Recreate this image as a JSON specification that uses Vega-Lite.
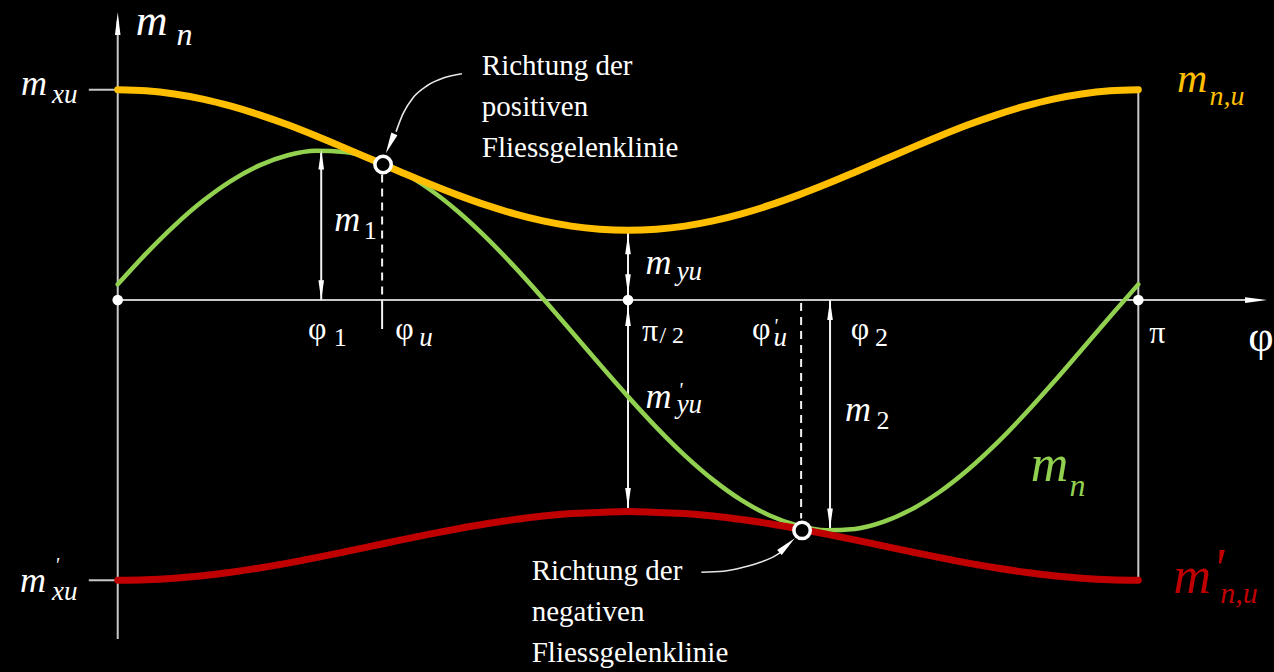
{
  "$schema": "https://vega.github.io/schema/vega-lite/v6.json",
  "width": 1274,
  "height": 672,
  "autosize": {"type": "fit", "contains": "padding"},
  "padding": 0,
  "background": "#000000",
  "config": {"view": {"stroke": null}, "text": {"font": "'Liberation Serif', 'Times New Roman', serif"}},
  "datasets": {
    "yellow": [
      {"phi": 0, "v": 211.0}, {"phi": 5, "v": 209.9}, {"phi": 10, "v": 206.7}, {"phi": 15, "v": 201.6},
      {"phi": 20, "v": 194.5}, {"phi": 25, "v": 185.8}, {"phi": 30, "v": 175.8}, {"phi": 35, "v": 164.6},
      {"phi": 40, "v": 152.7}, {"phi": 45, "v": 140.5}, {"phi": 50, "v": 128.3}, {"phi": 55, "v": 116.4},
      {"phi": 60, "v": 105.3}, {"phi": 65, "v": 95.2}, {"phi": 70, "v": 86.5}, {"phi": 75, "v": 79.4},
      {"phi": 80, "v": 74.2}, {"phi": 85, "v": 71.1}, {"phi": 90, "v": 70.0}, {"phi": 95, "v": 71.1},
      {"phi": 100, "v": 74.2}, {"phi": 105, "v": 79.4}, {"phi": 110, "v": 86.5}, {"phi": 115, "v": 95.2},
      {"phi": 120, "v": 105.3}, {"phi": 125, "v": 116.4}, {"phi": 130, "v": 128.3}, {"phi": 135, "v": 140.5},
      {"phi": 140, "v": 152.7}, {"phi": 145, "v": 164.6}, {"phi": 150, "v": 175.8}, {"phi": 155, "v": 185.8},
      {"phi": 160, "v": 194.5}, {"phi": 165, "v": 201.6}, {"phi": 170, "v": 206.7}, {"phi": 175, "v": 209.9},
      {"phi": 180, "v": 211.0}
    ],
    "red": [
      {"phi": 0, "v": -281.0}, {"phi": 5, "v": -280.5}, {"phi": 10, "v": -278.9}, {"phi": 15, "v": -276.4},
      {"phi": 20, "v": -272.9}, {"phi": 25, "v": -268.7}, {"phi": 30, "v": -263.8}, {"phi": 35, "v": -258.3},
      {"phi": 40, "v": -252.5}, {"phi": 45, "v": -246.5}, {"phi": 50, "v": -240.5}, {"phi": 55, "v": -234.7},
      {"phi": 60, "v": -229.3}, {"phi": 65, "v": -224.3}, {"phi": 70, "v": -220.1}, {"phi": 75, "v": -216.6},
      {"phi": 80, "v": -214.1}, {"phi": 85, "v": -213.0}, {"phi": 90, "v": -212.0}, {"phi": 95, "v": -213.0},
      {"phi": 100, "v": -214.1}, {"phi": 105, "v": -216.6}, {"phi": 110, "v": -220.1}, {"phi": 115, "v": -224.3},
      {"phi": 120, "v": -229.3}, {"phi": 125, "v": -234.7}, {"phi": 130, "v": -240.5}, {"phi": 135, "v": -246.5},
      {"phi": 140, "v": -252.5}, {"phi": 145, "v": -258.3}, {"phi": 150, "v": -263.8}, {"phi": 155, "v": -268.7},
      {"phi": 160, "v": -272.9}, {"phi": 165, "v": -276.4}, {"phi": 170, "v": -278.9}, {"phi": 175, "v": -280.5},
      {"phi": 180, "v": -281.0}
    ],
    "green": [
      {"phi": 0, "v": 15.8}, {"phi": 5, "v": 46.6}, {"phi": 10, "v": 74.7}, {"phi": 15, "v": 99.3},
      {"phi": 20, "v": 119.6}, {"phi": 25, "v": 135.1}, {"phi": 30, "v": 145.3}, {"phi": 35, "v": 149.8},
      {"phi": 40, "v": 148.5}, {"phi": 45, "v": 141.5}, {"phi": 50, "v": 128.9}, {"phi": 55, "v": 111.2},
      {"phi": 60, "v": 88.9}, {"phi": 65, "v": 62.7}, {"phi": 70, "v": 33.3}, {"phi": 75, "v": 1.7},
      {"phi": 80, "v": -31.2}, {"phi": 85, "v": -64.4}, {"phi": 90, "v": -96.8}, {"phi": 95, "v": -127.6},
      {"phi": 100, "v": -155.7}, {"phi": 105, "v": -180.3}, {"phi": 110, "v": -200.6}, {"phi": 115, "v": -216.1},
      {"phi": 120, "v": -226.3}, {"phi": 125, "v": -230.8}, {"phi": 130, "v": -229.5}, {"phi": 135, "v": -222.5},
      {"phi": 140, "v": -209.9}, {"phi": 145, "v": -192.2}, {"phi": 150, "v": -169.9}, {"phi": 155, "v": -143.7},
      {"phi": 160, "v": -114.3}, {"phi": 165, "v": -82.7}, {"phi": 170, "v": -49.8}, {"phi": 175, "v": -16.6},
      {"phi": 180, "v": 15.8}
    ]
  },
  "encoding": {
    "x": {"field": "phi", "type": "quantitative", "scale": {"domain": [-20.763, 203.402], "nice": false, "zero": false}, "axis": null},
    "y": {"field": "v", "type": "quantitative", "scale": {"domain": [-373, 299], "nice": false, "zero": false}, "axis": null}
  },
  "layer": [
    {
      "data": {"values": [
        {"phi": 0, "v": -340, "phi2": 0, "v2": 280},
        {"phi": 0, "v": 0, "phi2": 200, "v2": 0},
        {"phi": -5.1, "v": 211, "phi2": 0, "v2": 211},
        {"phi": -5.1, "v": -281, "phi2": 0, "v2": -281},
        {"phi": 180, "v": -281, "phi2": 180, "v2": 211}
      ]},
      "mark": {"type": "rule", "color": "#c8c8c8", "strokeWidth": 2},
      "encoding": {"x2": {"field": "phi2"}, "y2": {"field": "v2"}}
    },
    {
      "data": {"values": [
        {"phi": 90, "v": 70, "phi2": 90, "v2": -212},
        {"phi": 35.89, "v": 150, "phi2": 35.89, "v2": 0},
        {"phi": 125.63, "v": 0, "phi2": 125.63, "v2": -229},
        {"phi": 46.63, "v": 0, "phi2": 46.63, "v2": -29}
      ]},
      "mark": {"type": "rule", "color": "#f2f2f2", "strokeWidth": 2},
      "encoding": {"x2": {"field": "phi2"}, "y2": {"field": "v2"}}
    },
    {
      "data": {"values": [
        {"phi": 46.63, "v": 126, "phi2": 46.63, "v2": 0},
        {"phi": 120.53, "v": -3, "phi2": 120.53, "v2": -219}
      ]},
      "mark": {"type": "rule", "color": "#f2f2f2", "strokeWidth": 2, "strokeDash": [8, 6]},
      "encoding": {"x2": {"field": "phi2"}, "y2": {"field": "v2"}}
    },
    {
      "data": {"name": "green"},
      "mark": {"type": "line", "color": "#92d050", "strokeWidth": 4.5, "interpolate": "monotone", "strokeCap": "round"},
      "encoding": {}
    },
    {
      "data": {"name": "yellow"},
      "mark": {"type": "line", "color": "#ffbf00", "strokeWidth": 7, "interpolate": "monotone", "strokeCap": "round"},
      "encoding": {}
    },
    {
      "data": {"name": "red"},
      "mark": {"type": "line", "color": "#c00000", "strokeWidth": 7, "interpolate": "monotone", "strokeCap": "round"},
      "encoding": {}
    },
    {
      "data": {"values": [
        {"i": 0, "phi": 60.70, "v": 227}, {"i": 1, "phi": 57.54, "v": 223}, {"i": 2, "phi": 54.55, "v": 215},
        {"i": 3, "phi": 52.08, "v": 203}, {"i": 4, "phi": 50.32, "v": 187}, {"i": 5, "phi": 49.09, "v": 169}
      ]},
      "mark": {"type": "line", "color": "#e6e6e6", "strokeWidth": 1.6, "interpolate": "monotone"},
      "encoding": {"order": {"field": "i", "type": "quantitative"}}
    },
    {
      "data": {"values": [
        {"i": 0, "phi": 102.93, "v": -273}, {"i": 1, "phi": 106.80, "v": -272}, {"i": 2, "phi": 110.32, "v": -268},
        {"i": 3, "phi": 113.31, "v": -263}, {"i": 4, "phi": 115.78, "v": -257}, {"i": 5, "phi": 117.18, "v": -252}
      ]},
      "mark": {"type": "line", "color": "#e6e6e6", "strokeWidth": 1.6, "interpolate": "monotone"},
      "encoding": {"order": {"field": "i", "type": "quantitative"}}
    },
    {
      "data": {"values": [{"phi": 90, "v": 56}, {"phi": 90, "v": -16}, {"phi": 35.89, "v": 141}, {"phi": 125.63, "v": -10}]},
      "mark": {"type": "point", "shape": "M0,-1L0.28,1L-0.28,1Z", "size": 400, "filled": true, "color": "#ffffff", "opacity": 1}
    },
    {
      "data": {"values": [{"phi": 90, "v": 16}, {"phi": 90, "v": -198.5}, {"phi": 35.89, "v": 10}, {"phi": 125.63, "v": -219}]},
      "mark": {"type": "point", "shape": "M0,1L0.28,-1L-0.28,-1Z", "size": 400, "filled": true, "color": "#ffffff", "opacity": 1}
    },
    {
      "data": {"values": [{"phi": 0, "v": 277.5}]},
      "mark": {"type": "point", "shape": "M0,-1L0.24,1L-0.24,1Z", "size": 529, "filled": true, "color": "#ffffff", "opacity": 1}
    },
    {
      "data": {"values": [{"phi": 200.77, "v": 0}]},
      "mark": {"type": "point", "shape": "M1,0L-1,-0.27L-1,0.27Z", "size": 484, "filled": true, "color": "#ffffff", "opacity": 1}
    },
    {
      "data": {"values": [{"phi": 48.04, "v": 157}]},
      "mark": {"type": "point", "shape": "M0,1L0.32,-1L-0.32,-1Z", "size": 441, "angle": 24, "filled": true, "color": "#ffffff", "opacity": 1}
    },
    {
      "data": {"values": [{"phi": 118.06, "v": -246}]},
      "mark": {"type": "point", "shape": "M0,-1L0.32,1L-0.32,1Z", "size": 441, "angle": 47, "filled": true, "color": "#ffffff", "opacity": 1}
    },
    {
      "data": {"values": [{"phi": 0, "v": 0}, {"phi": 90, "v": 0}, {"phi": 180, "v": 0}]},
      "mark": {"type": "point", "shape": "circle", "size": 113, "filled": true, "color": "#ffffff", "opacity": 1}
    },
    {
      "data": {"values": [{"phi": 46.80, "v": 136}, {"phi": 120.70, "v": -231}]},
      "mark": {"type": "point", "shape": "circle", "size": 269, "fill": "#000000", "stroke": "#ffffff", "strokeWidth": 3.5, "filled": true, "opacity": 1, "fillOpacity": 1}
    },
    {
      "data": {"values": [
        {"phi": -14.78, "v": 206, "t": "m"}, {"phi": -14.96, "v": -293, "t": "m"}, {"phi": 40.47, "v": 69, "t": "m"},
        {"phi": 95.37, "v": 26, "t": "m"}, {"phi": 95.37, "v": -108, "t": "m"}, {"phi": 130.56, "v": -121, "t": "m"}
      ]},
      "mark": {"type": "text", "fontStyle": "italic", "fontSize": 36, "color": "#ffffff", "align": "center", "baseline": "alphabetic"},
      "encoding": {"text": {"field": "t"}}
    },
    {
      "data": {"values": [{"phi": 5.98, "v": 266, "t": "m"}]},
      "mark": {"type": "text", "fontStyle": "italic", "fontSize": 44, "color": "#ffffff", "align": "center", "baseline": "alphabetic"},
      "encoding": {"text": {"field": "t"}}
    },
    {
      "data": {"values": [{"phi": 11.79, "v": 256, "t": "n"}]},
      "mark": {"type": "text", "fontStyle": "italic", "fontSize": 32, "color": "#ffffff", "align": "center", "baseline": "alphabetic"},
      "encoding": {"text": {"field": "t"}}
    },
    {
      "data": {"values": [
        {"phi": -9.33, "v": 198, "t": "xu"}, {"phi": -9.33, "v": -301, "t": "xu"},
        {"phi": 100.82, "v": 20, "t": "yu"}, {"phi": 100.82, "v": -113, "t": "yu"},
        {"phi": 54.37, "v": -46, "t": "u"}, {"phi": 116.83, "v": -46, "t": "u"}
      ]},
      "mark": {"type": "text", "fontStyle": "italic", "fontSize": 27, "color": "#ffffff", "align": "center", "baseline": "alphabetic"},
      "encoding": {"text": {"field": "t"}}
    },
    {
      "data": {"values": [
        {"phi": 39.24, "v": -46, "t": "1"}, {"phi": 44.52, "v": 61, "t": "1"},
        {"phi": 134.69, "v": -46, "t": "2"}, {"phi": 134.95, "v": -129, "t": "2"}
      ]},
      "mark": {"type": "text", "fontSize": 26, "color": "#ffffff", "align": "center", "baseline": "alphabetic"},
      "encoding": {"text": {"field": "t"}}
    },
    {
      "data": {"values": [
        {"phi": 35.19, "v": -39, "t": "φ"}, {"phi": 50.59, "v": -39, "t": "φ"}, {"phi": 113.49, "v": -39, "t": "φ"},
        {"phi": 130.91, "v": -39, "t": "φ"}, {"phi": 93.87, "v": -41, "t": "π"}, {"phi": 183.35, "v": -43, "t": "π"}
      ]},
      "mark": {"type": "text", "fontSize": 32, "color": "#ffffff", "align": "center", "baseline": "alphabetic"},
      "encoding": {"text": {"field": "t"}}
    },
    {
      "data": {"values": [{"phi": 95.54, "v": -43, "t": "/ 2"}]},
      "mark": {"type": "text", "fontSize": 24, "color": "#ffffff", "align": "left", "baseline": "alphabetic"},
      "encoding": {"text": {"field": "t"}}
    },
    {
      "data": {"values": [{"phi": 201.64, "v": -51, "t": "φ"}]},
      "mark": {"type": "text", "fontSize": 44, "color": "#ffffff", "align": "center", "baseline": "alphabetic"},
      "encoding": {"text": {"field": "t"}}
    },
    {
      "data": {"values": [{"phi": -10.73, "v": -272.5, "t": "'"}, {"phi": 99.24, "v": -97.5, "t": "'"}, {"phi": 115.99, "v": -32.5, "t": "'"}]},
      "mark": {"type": "text", "fontStyle": "italic", "fontSize": 20, "color": "#ffffff", "align": "center", "baseline": "alphabetic"},
      "encoding": {"text": {"field": "t"}}
    },
    {
      "data": {"values": [{"phi": 189.50, "v": 209, "t": "m"}]},
      "mark": {"type": "text", "fontStyle": "italic", "fontSize": 42, "color": "#ffbf00", "align": "center", "baseline": "alphabetic"},
      "encoding": {"text": {"field": "t"}}
    },
    {
      "data": {"values": [{"phi": 195.66, "v": 196, "t": "n,u"}]},
      "mark": {"type": "text", "fontStyle": "italic", "fontSize": 28, "color": "#ffbf00", "align": "center", "baseline": "alphabetic"},
      "encoding": {"text": {"field": "t"}}
    },
    {
      "data": {"values": [{"phi": 164.34, "v": -181, "t": "m"}]},
      "mark": {"type": "text", "fontStyle": "italic", "fontSize": 52, "color": "#92d050", "align": "center", "baseline": "alphabetic"},
      "encoding": {"text": {"field": "t"}}
    },
    {
      "data": {"values": [{"phi": 169.27, "v": -196, "t": "n"}]},
      "mark": {"type": "text", "fontStyle": "italic", "fontSize": 32, "color": "#92d050", "align": "center", "baseline": "alphabetic"},
      "encoding": {"text": {"field": "t"}}
    },
    {
      "data": {"values": [{"phi": 189.50, "v": -294, "t": "m"}]},
      "mark": {"type": "text", "fontStyle": "italic", "fontSize": 52, "color": "#c00000", "align": "center", "baseline": "alphabetic"},
      "encoding": {"text": {"field": "t"}}
    },
    {
      "data": {"values": [{"phi": 194.08, "v": -289, "t": "'"}]},
      "mark": {"type": "text", "fontStyle": "italic", "fontSize": 56, "color": "#c00000", "align": "center", "baseline": "alphabetic"},
      "encoding": {"text": {"field": "t"}}
    },
    {
      "data": {"values": [{"phi": 197.77, "v": -304, "t": "n,u"}]},
      "mark": {"type": "text", "fontStyle": "italic", "fontSize": 30, "color": "#c00000", "align": "center", "baseline": "alphabetic"},
      "encoding": {"text": {"field": "t"}}
    },
    {
      "data": {"values": [
        {"phi": 64.22, "v": 226, "t": "Richtung der\npositiven\nFliessgelenklinie"},
        {"phi": 73.02, "v": -281, "t": "Richtung der\nnegativen\nFliessgelenklinie"}
      ]},
      "mark": {"type": "text", "fontSize": 29, "color": "#ffffff", "align": "left", "baseline": "alphabetic", "lineBreak": "\n", "lineHeight": 41},
      "encoding": {"text": {"field": "t"}}
    }
  ]
}
